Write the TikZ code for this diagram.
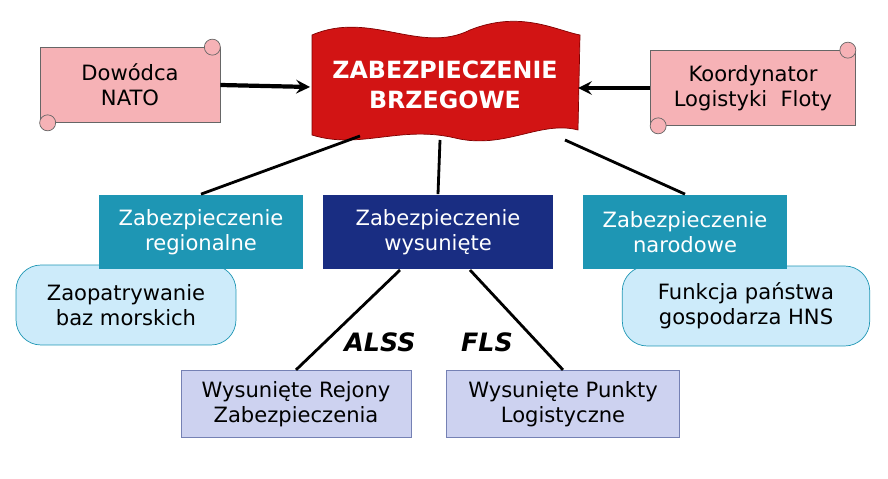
\documentclass[tikz,border=0pt]{standalone}
\usepackage{fontspec}
\setmainfont{DejaVu Sans}
\usetikzlibrary{positioning}
\definecolor{scrollpink}{RGB}{246,178,182}
\definecolor{bannerred}{RGB}{210,20,20}
\definecolor{tealbox}{RGB}{30,150,180}
\definecolor{navybox}{RGB}{25,45,130}
\definecolor{paleblue}{RGB}{205,235,250}
\definecolor{lavender}{RGB}{205,210,240}
\tikzset{
  scrollbox/.style={draw=black!60, fill=scrollpink, minimum width=3.6cm, minimum height=1.5cm, font=\large},
  headbox/.style={fill=#1, text=white, minimum width=4.1cm, minimum height=1.5cm, font=\large},
  roundbox/.style={draw=tealbox, fill=paleblue, rounded corners=0.5cm, minimum height=1.6cm, font=\large},
  lowbox/.style={draw=navybox!60, fill=lavender, minimum width=4.6cm, minimum height=1.35cm, font=\large},
  link/.style={line width=1.6pt},
  bigarrow/.style={line width=2.4pt, -stealth}
}
\begin{document}
\begin{tikzpicture}[x=0.02cm, y=-0.02cm, every text node part/.style={align=center}]
\useasboundingbox (0,0) rectangle (888,479);

% wavy banner
\fill[bannerred, draw=red!50!black] (312,35) .. controls (370,10) and (420,55) .. (470,30)
   .. controls (520,10) and (555,30) .. (580,35) -- (578,130)
   .. controls (540,120) and (505,150) .. (455,138)
   .. controls (400,125) and (360,150) .. (312,135) -- cycle;
\node[text=white, font=\fontsize{13.5}{17}\selectfont\bfseries] (head) at (445,85) {ZABEZPIECZENIE\\BRZEGOWE};

% scrolls
\node[scrollbox] (nato) at (130,85) {Dowódca\\NATO};
\draw[draw=black!60, fill=scrollpink] (nato.north east) ++(-8,0) circle (8);
\draw[draw=black!60, fill=scrollpink] (nato.south west) ++(8,0) circle (8);
\node[scrollbox, minimum width=4.1cm] (flota) at (753,88) {Koordynator\\Logistyki~~Floty};
\draw[draw=black!60, fill=scrollpink] (flota.north east) ++(-8,0) circle (8);
\draw[draw=black!60, fill=scrollpink] (flota.south west) ++(8,0) circle (8);

\draw[bigarrow] (nato.east) -- (310,87);
\draw[bigarrow] (flota.west) -- (578,88);

% rounded boxes sit behind the second level
\node[roundbox, minimum width=4.4cm] (baz) at (126,305) {Zaopatrywanie\\baz morskich};
\node[roundbox, minimum width=4.95cm] (hns) at (746,306) {Funkcja państwa\\gospodarza HNS};

% second level
\node[headbox=tealbox] (reg) at (201,232) {Zabezpieczenie\\regionalne};
\node[headbox=navybox, minimum width=4.6cm] (wys) at (438,232) {Zabezpieczenie\\wysunięte};
\node[headbox=tealbox] (nar) at (685,232) {Zabezpieczenie\\narodowe};

\draw[link] (360,136) -- (reg.north);
\draw[link] (440,140) -- (wys.north);
\draw[link] (565,140) -- (nar.north);

% third level
\node[lowbox] (rej) at (296,404) {Wysunięte Rejony\\Zabezpieczenia};
\node[lowbox, minimum width=4.65cm] (pkt) at (563,404) {Wysunięte Punkty\\Logistyczne};

\draw[link] (400,270) -- (rej.north);
\draw[link] (470,270) -- (pkt.north);

\node[font=\Large\bfseries\itshape] (alss) at (380,342) {ALSS};
\node[font=\Large\bfseries\itshape] (fls) at (487,342) {FLS};
\end{tikzpicture}
\end{document}
